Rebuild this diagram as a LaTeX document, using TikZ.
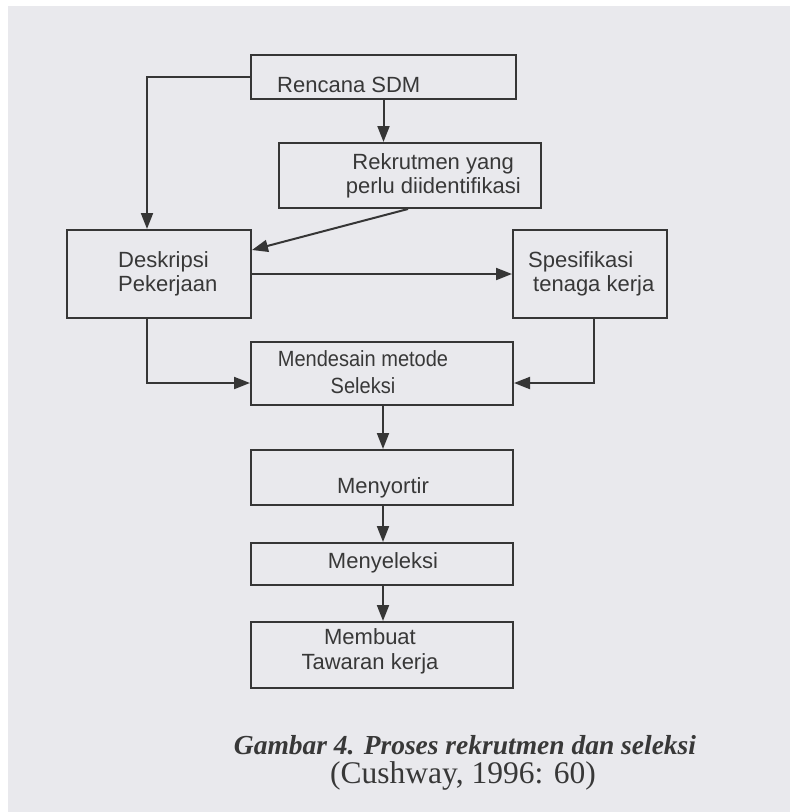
\documentclass[tikz,border=0pt]{standalone}
\usepackage{fontspec}
\usepackage{graphicx}
\setmainfont{Liberation Serif}
\newfontfamily\boxfont{Liberation Sans}
\usetikzlibrary{arrows.meta}
\definecolor{paper}{HTML}{E9E9ED}
\definecolor{ink}{HTML}{363636}
\definecolor{txt}{HTML}{383838}
\newcommand{\narrow}[1]{\scalebox{0.91}[1]{#1}}

\begin{document}
\begin{tikzpicture}[x=1pt,y=-1pt,
  box/.style={draw=ink, line width=2pt, inner sep=0pt},
  lbl/.style={text=txt, font=\boxfont\fontsize{22}{24}\selectfont, inner sep=0pt},
  flow/.style={draw=ink, line width=2pt, -{Triangle[length=16pt,width=12pt]}},
]
\useasboundingbox (0,0) rectangle (790,812);
\fill[white] (0,0) rectangle (790,812);
\fill[paper] (8,6) rectangle (790,812);

% boxes
\node[box, minimum width=265pt, minimum height=44pt] (rencana) at (383.5,77) {};
\node[box, minimum width=262pt, minimum height=65pt] (rekrut) at (410,175.5) {};
\node[box, minimum width=184pt, minimum height=88pt] (desk) at (159,274) {};
\node[box, minimum width=154pt, minimum height=88pt] (spes) at (590,274) {};
\node[box, minimum width=262pt, minimum height=63pt] (mend) at (382,373.5) {};
\node[box, minimum width=262pt, minimum height=55pt] (sort) at (382,477.5) {};
\node[box, minimum width=262pt, minimum height=42pt] (sel) at (382,564) {};
\node[box, minimum width=262pt, minimum height=66pt] (buat) at (382,655) {};

% box texts
\node[lbl, anchor=west] (trencana) at (277,85) {Rencana SDM};
\node[lbl, anchor=east, align=right] (trekrut) at (521,176) {Rekrutmen yang\hspace*{7pt}\\perlu diidentifikasi};
\node[lbl, anchor=west, align=left] (tdesk) at (118,274) {Deskripsi\\Pekerjaan};
\node[lbl, anchor=west, align=left] (tspes) at (528,274) {Spesifikasi\\\hspace*{5pt}tenaga kerja};
\node[lbl, align=center, font=\boxfont\fontsize{22}{27}\selectfont] (tmend) at (363,372) {\narrow{Mendesain metode}\\\narrow{Seleksi}};
\node[lbl] (tsort) at (383,488) {Menyortir};
\node[lbl] (tsel) at (383,563) {Menyeleksi};
\node[lbl, align=center, font=\boxfont\fontsize{22}{25}\selectfont] (tbuat) at (370,651) {Membuat\\Tawaran kerja};

% connectors
\draw[flow] (rencana.west) -| ([xshift=-12pt]desk.north);
\draw[flow] (rencana.south) -- (rencana.south |- rekrut.north);
\draw[flow] ([xshift=-2pt]rekrut.south) -- ([yshift=24pt]desk.east);
\draw[flow] (desk.east) -- (spes.west);
\draw[flow] ([xshift=-12pt]desk.south) |- ([yshift=-9.5pt]mend.west);
\draw[flow] ([xshift=4pt]spes.south) |- ([yshift=-9.5pt]mend.east);
\draw[flow] ([xshift=1pt]mend.south) -- ([xshift=1pt]sort.north);
\draw[flow] ([xshift=1pt]sort.south) -- ([xshift=1pt]sel.north);
\draw[flow] ([xshift=1pt]sel.south) -- ([xshift=1pt]buat.north);

% caption
\node[text=txt, inner sep=0pt, font=\fontsize{27.5}{30}\selectfont\bfseries\itshape] (cap) at (465,745) {Gambar 4. Proses rekrutmen dan seleksi};
\node[text=txt, inner sep=0pt, font=\fontsize{31.5}{33}\selectfont] (src) at (463,776) {(Cushway, 1996: 60)};
\end{tikzpicture}
\end{document}
